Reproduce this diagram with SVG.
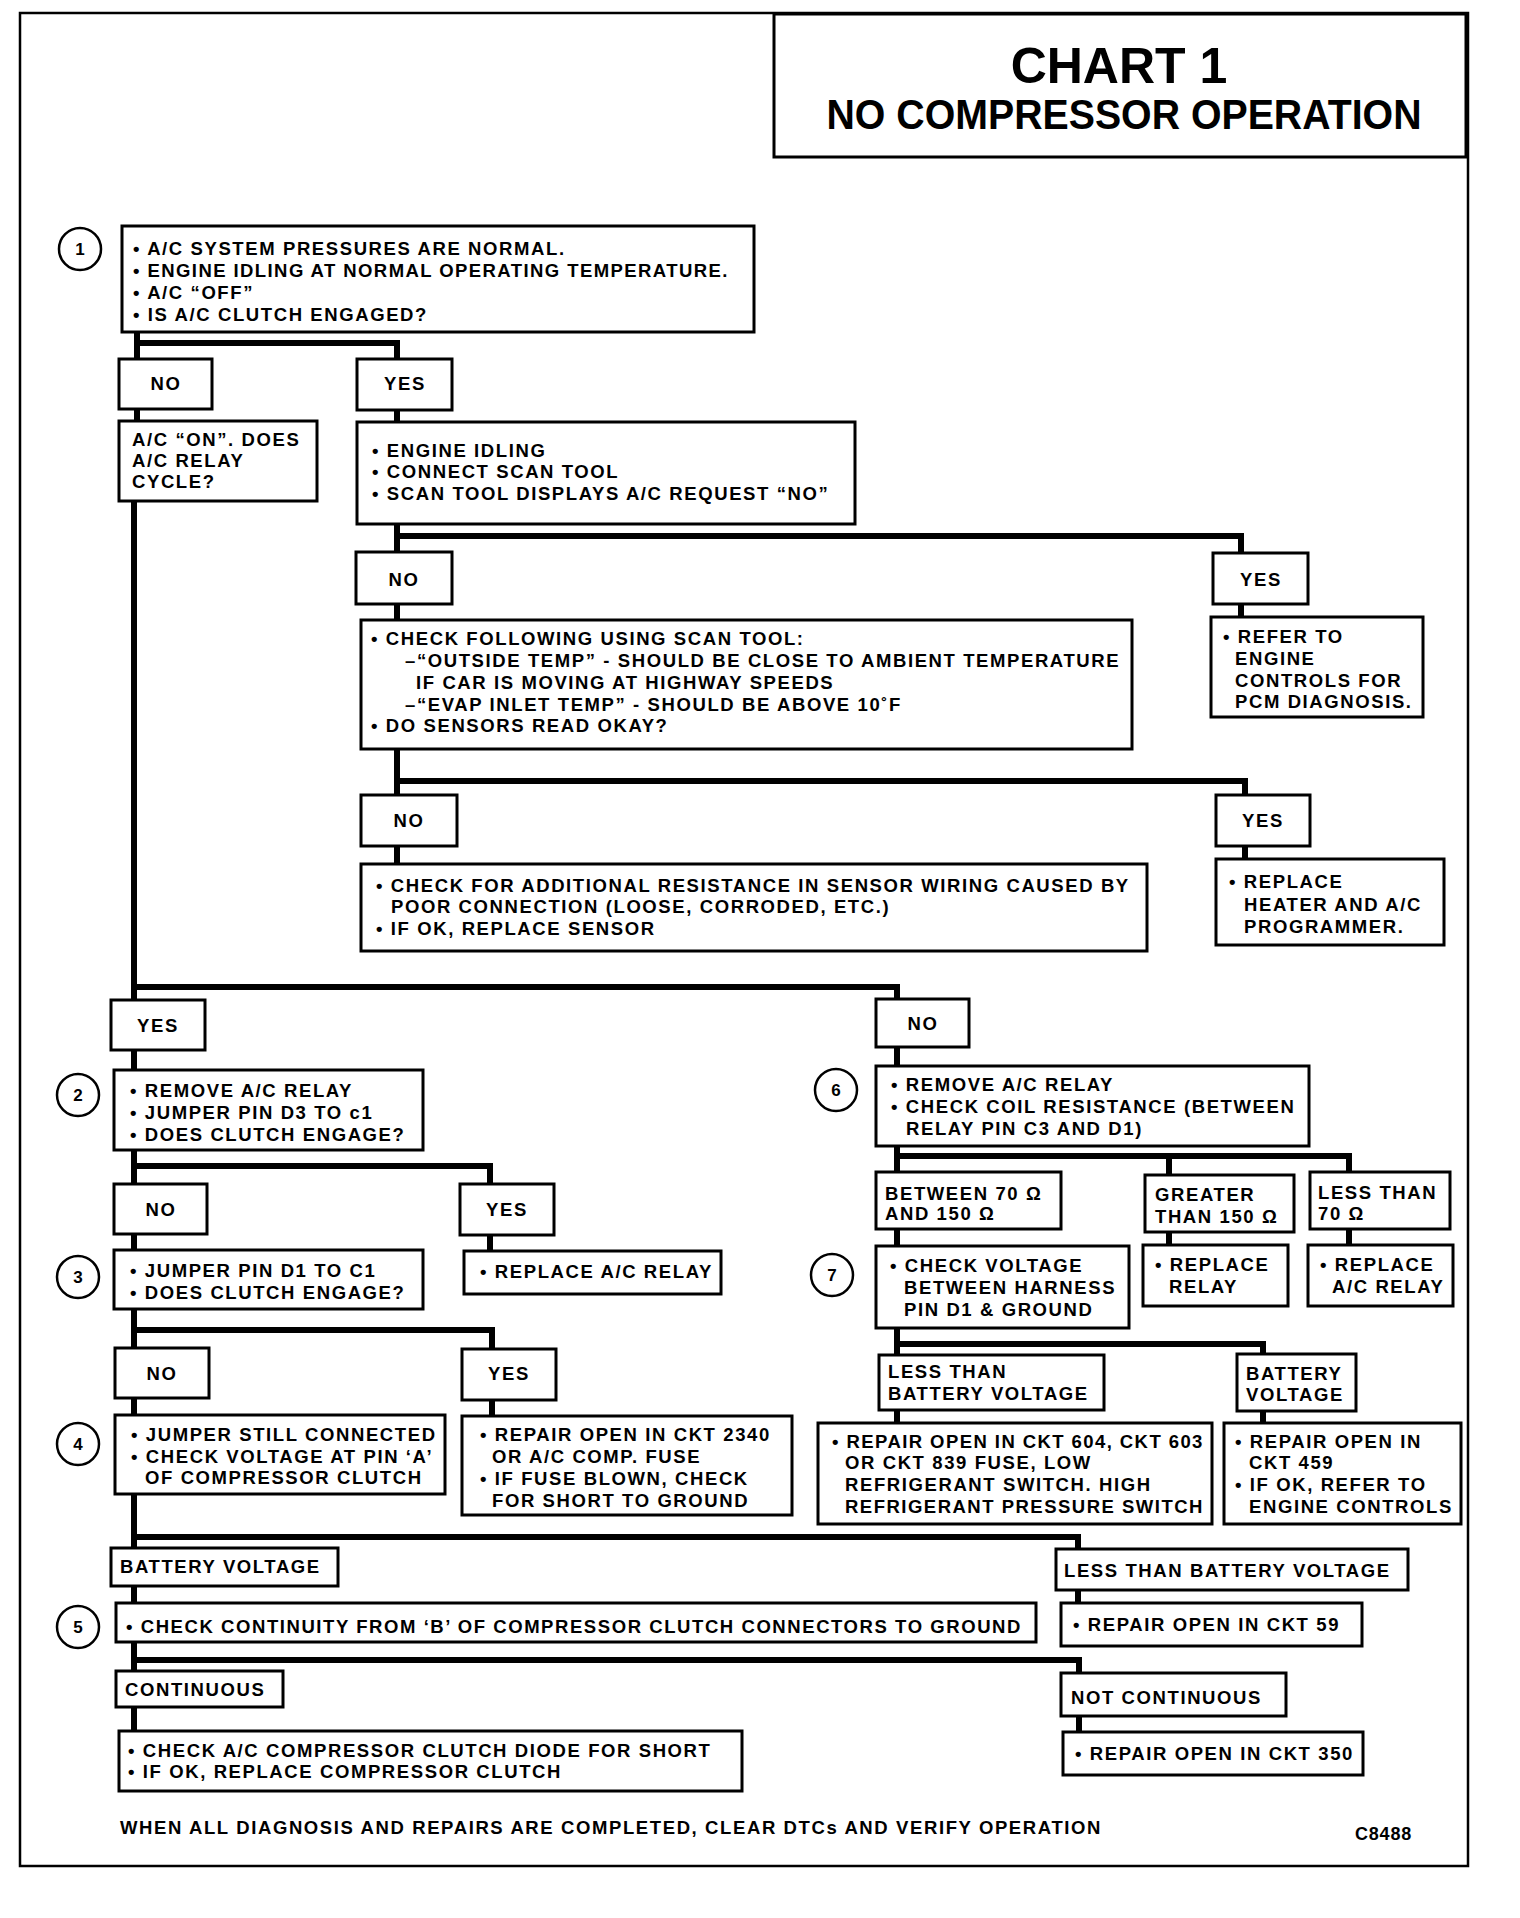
<svg xmlns="http://www.w3.org/2000/svg" width="1520" height="1918" viewBox="0 0 1520 1918">
<style>
text{font-family:"Liberation Sans",Arial,Helvetica,sans-serif;font-weight:bold;fill:#000}
.t{font-size:18.5px;letter-spacing:1.6px}
.c{text-anchor:middle}
.n{font-size:17px;text-anchor:middle}
.box{fill:#fff;stroke:#000;stroke-width:3}
.num{fill:#fff;stroke:#000;stroke-width:2.5}
#connectors path{fill:none;stroke:#000;stroke-width:6;stroke-linejoin:miter;stroke-linecap:butt}
</style>
<rect x="0" y="0" width="1520" height="1918" fill="#fff"/>
<rect x="20" y="13" width="1448" height="1853" fill="none" stroke="#000" stroke-width="2.5"/>
<g id="title">
<rect x="774" y="14" width="692" height="143" fill="none" stroke="#000" stroke-width="3"/>
<text x="1119" y="83" class="c" style="font-size:50px">CHART 1</text>
<text x="1124" y="129" class="c" style="font-size:43px" textLength="595" lengthAdjust="spacingAndGlyphs">NO COMPRESSOR OPERATION</text>
</g>
<g id="connectors">
<path d="M137 332V359M137 343H397V359"/>
<path d="M137 409V421"/>
<path d="M397 410V422"/>
<path d="M134 501V1000M134 987H897V999"/>
<path d="M397 524V552M397 536H1241V553"/>
<path d="M397 604V620"/>
<path d="M1241 604V617"/>
<path d="M397 748V795M397 781H1245V795"/>
<path d="M397 846V864"/>
<path d="M1245 846V859"/>
<path d="M134 1050V1070"/>
<path d="M134 1150V1184M134 1166H490V1184"/>
<path d="M134 1234V1250"/>
<path d="M490 1235V1251"/>
<path d="M134 1309V1348M134 1330H492V1349"/>
<path d="M134 1398V1415"/>
<path d="M492 1400V1416"/>
<path d="M134 1494V1548M134 1537H1078V1549"/>
<path d="M134 1586V1603"/>
<path d="M1078 1590V1603"/>
<path d="M134 1642V1671M134 1660H1079V1673"/>
<path d="M134 1707V1731"/>
<path d="M1079 1716V1732"/>
<path d="M897 1047V1066"/>
<path d="M897 1146V1172M897 1156H1349V1172M1169 1156V1175"/>
<path d="M897 1229V1246"/>
<path d="M1169 1232V1245"/>
<path d="M1349 1229V1245"/>
<path d="M897 1328V1355M897 1344H1263V1354"/>
<path d="M897 1410V1423"/>
<path d="M1263 1411V1423"/>
</g>
<g id="step1">
<circle class="num" cx="80" cy="249" r="21"/>
<text x="80" y="255" class="n">1</text>
<rect class="box" x="122" y="226" width="632" height="106"/>
<text class="t" x="133" y="255">• A/C SYSTEM PRESSURES ARE NORMAL.</text>
<text class="t" x="133" y="277" textLength="596">• ENGINE IDLING AT NORMAL OPERATING TEMPERATURE.</text>
<text class="t" x="133" y="299">• A/C “OFF”</text>
<text class="t" x="133" y="321">• IS A/C CLUTCH ENGAGED?</text>
</g>
<g id="no1"><rect class="box" x="119" y="359" width="93" height="50"/><text class="t c" x="166" y="390">NO</text></g>
<g id="yes1"><rect class="box" x="357" y="359" width="95" height="51"/><text class="t c" x="405" y="390">YES</text></g>
<g id="relaycycle"><rect class="box" x="119" y="421" width="198" height="80"/>
<text class="t" x="132" y="446">A/C “ON”. DOES</text>
<text class="t" x="132" y="467">A/C RELAY</text>
<text class="t" x="132" y="488">CYCLE?</text></g>
<g id="scantool"><rect class="box" x="357" y="422" width="498" height="102"/>
<text class="t" x="372" y="457">• ENGINE IDLING</text>
<text class="t" x="372" y="478">• CONNECT SCAN TOOL</text>
<text class="t" x="372" y="500">• SCAN TOOL DISPLAYS A/C REQUEST “NO”</text></g>
<g id="no2"><rect class="box" x="356" y="552" width="96" height="52"/><text class="t c" x="404" y="586">NO</text></g>
<g id="yes2"><rect class="box" x="1213" y="553" width="95" height="51"/><text class="t c" x="1261" y="586">YES</text></g>
<g id="sensors"><rect class="box" x="361" y="620" width="771" height="129"/>
<text class="t" x="371" y="645">• CHECK FOLLOWING USING SCAN TOOL:</text>
<text class="t" x="405" y="667">–“OUTSIDE TEMP” - SHOULD BE CLOSE TO AMBIENT TEMPERATURE</text>
<text class="t" x="416" y="689">IF CAR IS MOVING AT HIGHWAY SPEEDS</text>
<text class="t" x="405" y="711">–“EVAP INLET TEMP” - SHOULD BE ABOVE 10˚F</text>
<text class="t" x="371" y="732">• DO SENSORS READ OKAY?</text></g>
<g id="refer"><rect class="box" x="1211" y="617" width="212" height="100"/>
<text class="t" x="1223" y="643">• REFER TO</text>
<text class="t" x="1235" y="665">ENGINE</text>
<text class="t" x="1235" y="687">CONTROLS FOR</text>
<text class="t" x="1235" y="708">PCM DIAGNOSIS.</text></g>
<g id="no3"><rect class="box" x="361" y="795" width="96" height="51"/><text class="t c" x="409" y="827">NO</text></g>
<g id="yes3"><rect class="box" x="1216" y="795" width="94" height="51"/><text class="t c" x="1263" y="827">YES</text></g>
<g id="wiring"><rect class="box" x="361" y="864" width="786" height="87"/>
<text class="t" x="376" y="892">• CHECK FOR ADDITIONAL RESISTANCE IN SENSOR WIRING CAUSED BY</text>
<text class="t" x="391" y="913">POOR CONNECTION (LOOSE, CORRODED, ETC.)</text>
<text class="t" x="376" y="935">• IF OK, REPLACE SENSOR</text></g>
<g id="programmer"><rect class="box" x="1216" y="859" width="228" height="86"/>
<text class="t" x="1229" y="888">• REPLACE</text>
<text class="t" x="1244" y="911">HEATER AND A/C</text>
<text class="t" x="1244" y="933">PROGRAMMER.</text></g>
<g id="yes4"><rect class="box" x="111" y="1000" width="94" height="50"/><text class="t c" x="158" y="1032">YES</text></g>
<g id="no4"><rect class="box" x="876" y="999" width="93" height="48"/><text class="t c" x="923" y="1030">NO</text></g>
<g id="step2">
<circle class="num" cx="78" cy="1095" r="21"/><text x="78" y="1101" class="n">2</text>
<rect class="box" x="114" y="1070" width="309" height="80"/>
<text class="t" x="130" y="1097">• REMOVE A/C RELAY</text>
<text class="t" x="130" y="1119">• JUMPER PIN D3 TO c1</text>
<text class="t" x="130" y="1141">• DOES CLUTCH ENGAGE?</text></g>
<g id="no5"><rect class="box" x="114" y="1184" width="93" height="50"/><text class="t c" x="161" y="1216">NO</text></g>
<g id="yes5"><rect class="box" x="460" y="1184" width="94" height="51"/><text class="t c" x="507" y="1216">YES</text></g>
<g id="step3">
<circle class="num" cx="78" cy="1277" r="21"/><text x="78" y="1283" class="n">3</text>
<rect class="box" x="114" y="1250" width="309" height="59"/>
<text class="t" x="130" y="1277">• JUMPER PIN D1 TO C1</text>
<text class="t" x="130" y="1299">• DOES CLUTCH ENGAGE?</text></g>
<g id="replacerelay1"><rect class="box" x="464" y="1251" width="257" height="43"/>
<text class="t" x="480" y="1278">• REPLACE A/C RELAY</text></g>
<g id="no6"><rect class="box" x="115" y="1348" width="94" height="50"/><text class="t c" x="162" y="1380">NO</text></g>
<g id="yes6"><rect class="box" x="462" y="1349" width="94" height="51"/><text class="t c" x="509" y="1380">YES</text></g>
<g id="step4">
<circle class="num" cx="78" cy="1444" r="21"/><text x="78" y="1450" class="n">4</text>
<rect class="box" x="115" y="1415" width="330" height="79"/>
<text class="t" x="131" y="1441">• JUMPER STILL CONNECTED</text>
<text class="t" x="131" y="1463">• CHECK VOLTAGE AT PIN ‘A’</text>
<text class="t" x="145" y="1484">OF COMPRESSOR CLUTCH</text></g>
<g id="ckt2340"><rect class="box" x="462" y="1416" width="330" height="99"/>
<text class="t" x="480" y="1441">• REPAIR OPEN IN CKT 2340</text>
<text class="t" x="492" y="1463">OR A/C COMP. FUSE</text>
<text class="t" x="480" y="1485">• IF FUSE BLOWN, CHECK</text>
<text class="t" x="492" y="1507">FOR SHORT TO GROUND</text></g>
<g id="step6">
<circle class="num" cx="836" cy="1090" r="21"/><text x="836" y="1096" class="n">6</text>
<rect class="box" x="876" y="1066" width="433" height="80"/>
<text class="t" x="891" y="1091">• REMOVE A/C RELAY</text>
<text class="t" x="891" y="1113">• CHECK COIL RESISTANCE (BETWEEN</text>
<text class="t" x="906" y="1135">RELAY PIN C3 AND D1)</text></g>
<g id="between"><rect class="box" x="876" y="1172" width="185" height="57"/>
<text class="t" x="885" y="1200">BETWEEN 70 Ω</text>
<text class="t" x="885" y="1220">AND 150 Ω</text></g>
<g id="greater"><rect class="box" x="1145" y="1175" width="149" height="57"/>
<text class="t" x="1155" y="1201">GREATER</text>
<text class="t" x="1155" y="1223">THAN 150 Ω</text></g>
<g id="lessthan70"><rect class="box" x="1310" y="1172" width="140" height="57"/>
<text class="t" x="1318" y="1199">LESS THAN</text>
<text class="t" x="1318" y="1220">70 Ω</text></g>
<g id="step7">
<circle class="num" cx="832" cy="1275" r="21"/><text x="832" y="1281" class="n">7</text>
<rect class="box" x="876" y="1246" width="253" height="82"/>
<text class="t" x="890" y="1272">• CHECK VOLTAGE</text>
<text class="t" x="904" y="1294">BETWEEN HARNESS</text>
<text class="t" x="904" y="1316">PIN D1 &amp; GROUND</text></g>
<g id="replacerelay2"><rect class="box" x="1143" y="1245" width="145" height="61"/>
<text class="t" x="1155" y="1271">• REPLACE</text>
<text class="t" x="1169" y="1293">RELAY</text></g>
<g id="replacerelay3"><rect class="box" x="1308" y="1245" width="145" height="61"/>
<text class="t" x="1320" y="1271">• REPLACE</text>
<text class="t" x="1332" y="1293">A/C RELAY</text></g>
<g id="lessbv1"><rect class="box" x="879" y="1355" width="225" height="55"/>
<text class="t" x="888" y="1378">LESS THAN</text>
<text class="t" x="888" y="1400">BATTERY VOLTAGE</text></g>
<g id="bv1"><rect class="box" x="1237" y="1354" width="119" height="57"/>
<text class="t" x="1246" y="1380">BATTERY</text>
<text class="t" x="1246" y="1401">VOLTAGE</text></g>
<g id="ckt604"><rect class="box" x="818" y="1423" width="394" height="101"/>
<text class="t" x="832" y="1448" textLength="372">• REPAIR OPEN IN CKT 604, CKT 603</text>
<text class="t" x="845" y="1469">OR CKT 839 FUSE, LOW</text>
<text class="t" x="845" y="1491">REFRIGERANT SWITCH. HIGH</text>
<text class="t" x="845" y="1513" textLength="359">REFRIGERANT PRESSURE SWITCH</text></g>
<g id="ckt459"><rect class="box" x="1224" y="1423" width="237" height="101"/>
<text class="t" x="1235" y="1448">• REPAIR OPEN IN</text>
<text class="t" x="1249" y="1469">CKT 459</text>
<text class="t" x="1235" y="1491">• IF OK, REFER TO</text>
<text class="t" x="1249" y="1513">ENGINE CONTROLS</text></g>
<g id="bv2"><rect class="box" x="111" y="1548" width="227" height="38"/>
<text class="t" x="120" y="1573">BATTERY VOLTAGE</text></g>
<g id="lessbv2"><rect class="box" x="1056" y="1549" width="352" height="41"/>
<text class="t" x="1064" y="1577">LESS THAN BATTERY VOLTAGE</text></g>
<g id="step5">
<circle class="num" cx="78" cy="1627" r="21"/><text x="78" y="1633" class="n">5</text>
<rect class="box" x="116" y="1603" width="920" height="39"/>
<text class="t" x="126" y="1633" textLength="896">• CHECK CONTINUITY FROM ‘B’ OF COMPRESSOR CLUTCH CONNECTORS TO GROUND</text></g>
<g id="ckt59"><rect class="box" x="1061" y="1603" width="301" height="43"/>
<text class="t" x="1073" y="1631">• REPAIR OPEN IN CKT 59</text></g>
<g id="continuous"><rect class="box" x="116" y="1671" width="167" height="36"/>
<text class="t" x="125" y="1696">CONTINUOUS</text></g>
<g id="notcontinuous"><rect class="box" x="1061" y="1673" width="225" height="43"/>
<text class="t" x="1071" y="1704">NOT CONTINUOUS</text></g>
<g id="diode"><rect class="box" x="119" y="1731" width="623" height="60"/>
<text class="t" x="128" y="1757">• CHECK A/C COMPRESSOR CLUTCH DIODE FOR SHORT</text>
<text class="t" x="128" y="1778">• IF OK, REPLACE COMPRESSOR CLUTCH</text></g>
<g id="ckt350"><rect class="box" x="1063" y="1732" width="300" height="43"/>
<text class="t" x="1075" y="1760">• REPAIR OPEN IN CKT 350</text></g>
<g id="footer">
<text class="t" x="120" y="1834" textLength="982">WHEN ALL DIAGNOSIS AND REPAIRS ARE COMPLETED, CLEAR DTCs AND VERIFY OPERATION</text>
<text x="1355" y="1840" style="font-size:18px;letter-spacing:0.8px">C8488</text>
</g>
</svg>
